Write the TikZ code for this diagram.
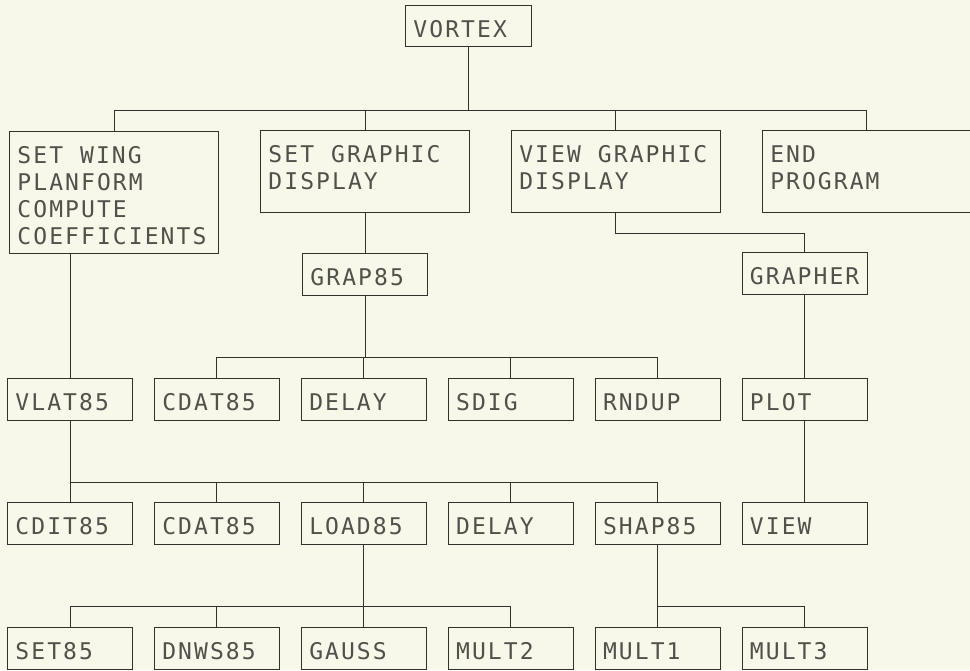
\documentclass[tikz,border=0pt]{standalone}
\usepackage{fontspec}
\newfontfamily\plotfont{DejaVu Sans Mono}[LetterSpace=9]
\newcommand\wsp{\hspace{17pt}}
\usepackage{tikz}
\usetikzlibrary{positioning}
\definecolor{paper}{RGB}{248,248,234}
\definecolor{ink}{RGB}{50,50,45}

\begin{document}
\begin{tikzpicture}[
    x=1pt, y=-1pt,
    node distance=21pt,
    box/.style={draw=ink, line width=0.9pt, rectangle, inner xsep=8pt, inner ysep=0pt,
      text width=109pt, text height=32pt, text depth=10pt, align=left,
      font=\plotfont\fontsize{23}{27}\selectfont, text=ink!85},
    topbox/.style={box, text width=193pt, text depth=50pt},
    link/.style={draw=ink, line width=0.9pt}
  ]
    \path[use as bounding box, fill=paper] (0,0) rectangle (970,670);

    \node[box, anchor=north west, text width=110pt, text depth=9pt] (vortex) at (405,5) {VORTEX};
    \node[topbox, anchor=north west, text depth=90pt] (setwing) at (9,131) {SET\wsp WING\\PLANFORM\\COMPUTE\\COEFFICIENTS};
    \node[topbox, anchor=north west] (setgraph) at (260,130) {SET\wsp GRAPHIC\\DISPLAY};
    \node[topbox, right=41pt of setgraph] (viewgraph) {VIEW\wsp GRAPHIC\\DISPLAY};
    \node[topbox, right=41pt of viewgraph] (endprog) {END\\PROGRAM};
    \node[box, below=40pt of setgraph] (grap85) {GRAP85};

    \node[box, anchor=north west] (vlat85) at (7,378) {VLAT85};
    \node[box, right=of vlat85] (cdat85a) {CDAT85};
    \node[box, right=of cdat85a] (delaya) {DELAY};
    \node[box, right=of delaya] (sdig) {SDIG};
    \node[box, right=of sdig] (rndup) {RNDUP};
    \node[box, right=of rndup] (plot) {PLOT};
    \node[box, above=83pt of plot] (grapher) {GRAPHER};

    \node[box, below=81pt of vlat85] (cdit85) {CDIT85};
    \node[box, right=of cdit85] (cdat85b) {CDAT85};
    \node[box, right=of cdat85b] (load85) {LOAD85};
    \node[box, right=of load85] (delayb) {DELAY};
    \node[box, right=of delayb] (shap85) {SHAP85};
    \node[box, right=of shap85] (view) {VIEW};

    \node[box, below=82pt of cdit85] (set85) {SET85};
    \node[box, right=of set85] (dnws85) {DNWS85};
    \node[box, right=of dnws85] (gauss) {GAUSS};
    \node[box, right=of gauss] (mult2) {MULT2};
    \node[box, right=of mult2] (mult1) {MULT1};
    \node[box, right=of mult1] (mult3) {MULT3};

    \coordinate (bus1) at (0,110);
    \coordinate (bus2) at (0,233);
    \coordinate (bus3) at (0,357);
    \coordinate (bus4) at (0,482);
    \coordinate (bus5) at (0,606);

    \foreach \n in {setwing,setgraph,viewgraph,endprog}
      \draw[link] (vortex.south) -- (vortex.south |- bus1) -| (\n.north);
    \draw[link] (setwing.south -| vlat85.north) -- (vlat85.north);
    \draw[link] (setgraph.south) -- (grap85.north);
    \draw[link] (viewgraph.south) -- (viewgraph.south |- bus2) -| (grapher.north);
    \foreach \n in {cdat85a,delaya,sdig,rndup}
      \draw[link] (grap85.south) -- (grap85.south |- bus3) -| (\n.north);
    \draw[link] (grapher.south) -- (plot.north);
    \draw[link] (plot.south) -- (view.north);
    \foreach \n in {cdit85,cdat85b,load85,delayb,shap85}
      \draw[link] (vlat85.south) -- (vlat85.south |- bus4) -| (\n.north);
    \foreach \n in {set85,dnws85,gauss,mult2}
      \draw[link] (load85.south) -- (load85.south |- bus5) -| (\n.north);
    \foreach \n in {mult1,mult3}
      \draw[link] (shap85.south) -- (shap85.south |- bus5) -| (\n.north);
  \end{tikzpicture}
\end{document}
